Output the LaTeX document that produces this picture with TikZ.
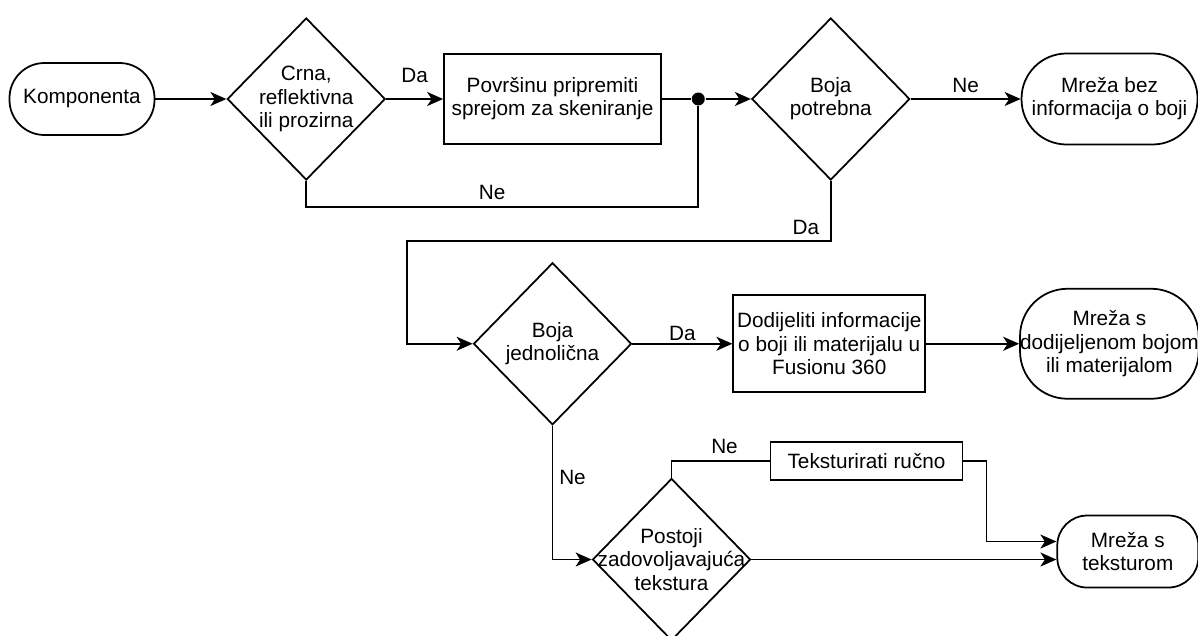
\documentclass[tikz,border=0pt]{standalone}
\usepackage{fontspec}
\setmainfont{Liberation Sans}
\usepackage{tikz}
\usetikzlibrary{arrows.meta, positioning, shapes.geometric, calc}

\begin{document}
\begin{tikzpicture}[
			font=\fontsize{11.8}{13.2}\selectfont,
			line width=1pt,
			terminal/.style={rectangle, draw, rounded corners=0.7cm, minimum width=2.9cm, minimum height=1.44cm, align=center, inner sep=0pt},
			process/.style={rectangle, draw, minimum width=3.84cm, minimum height=1.94cm, align=center, inner sep=0pt},
			decision/.style={diamond, draw, minimum width=3.16cm, minimum height=3.24cm, inner sep=0pt},
			dtext/.style={align=center},
			dot/.style={circle, fill, inner sep=0pt, minimum size=0.26cm},
			arrow/.style={-{Stealth[length=3.2mm, width=2.8mm, inset=0.9mm]}}
		]
		\useasboundingbox (-1.64,1.98) rectangle (22.32,-10.72);
		% first row
		\node[terminal] (komp) {Komponenta};
		\node[decision, right=1.42cm of komp, label={[dtext]center:Crna,\\reflektivna\\ili prozirna}] (crna) {};
		\node[process, right=1.14cm of crna, minimum width=4.34cm, minimum height=1.8cm] (povr) {Površinu pripremiti\\sprejom za skeniranje};
		\node[dot, right=0.58cm of povr] (join) {};
		\node[decision, right=1.78cm of povr, label={[dtext]center:Boja\\potrebna}] (bojap) {};
		\node[terminal, right=2.2cm of bojap, minimum width=3.52cm, minimum height=1.82cm, rounded corners=0.9cm] (mrezabez) {Mreža bez\\informacija o boji};
		% second row
		\node[decision, below=2.34cm of povr, label={[dtext]center:Boja\\jednolična}] (bojaj) {};
		\node[process, right=2.0cm of bojaj] (dodij) {Dodijeliti informacije\\o boji ili materijalu u\\Fusionu 360};
		\node[terminal, right=1.86cm of dodij, minimum width=3.54cm, minimum height=2.2cm, rounded corners=0.95cm] (mrezadod) {Mreža s\\dodijeljenom bojom\\ili materijalom};
		% third row
		\node[decision, below=1.04cm of bojaj, xshift=2.38cm, label={[dtext]center:Postoji\\zadovoljavajuća\\tekstura}] (postoji) {};
		\node[process, minimum height=0.76cm] (tekst) at ($(postoji.north)+(3.9,0.34)$) {Teksturirati ručno};
		\node[terminal, right=6.1cm of postoji, yshift=0.16cm, minimum width=2.82cm, rounded corners=0.6cm] (mrezatek) {Mreža s\\teksturom};
		
		\draw[arrow] (komp) -- (crna);
		\draw[arrow] (crna) -- node[above=0.2cm] {Da} (povr);
		\draw (povr) -- (join);
		\draw[arrow] (join) -- (bojap);
		\draw (crna.south) -- ++(0,-0.52) -| node[pos=0.237, above] {Ne} (join);
		\draw[arrow] (bojap) -- node[above] {Ne} (mrezabez);
		\coordinate (turn) at ($(bojaj.west)+(-1.32,0)$);
		\draw[arrow] (bojap.south) -- node[pos=0.77, left=0.1cm] {Da} ++(0,-1.2) -| (turn) -- (bojaj.west);
		\draw[arrow] (bojaj) -- node[above, inner sep=1.5pt] {Da} (dodij);
		\draw[arrow] (dodij) -- (mrezadod);
		\draw[arrow] (bojaj.south) |- node[pos=0.194, right] {Ne} (postoji.west);
		\draw (postoji.north) |- node[pos=0.77, above] {Ne} (tekst.west);
		\draw[arrow] (tekst.east) -- ++(0.46,0) |- ([yshift=0.2cm]mrezatek.west);
		\draw[arrow] (postoji.east) -- (postoji.east -| mrezatek.west);
		\end{tikzpicture}
\end{document}
